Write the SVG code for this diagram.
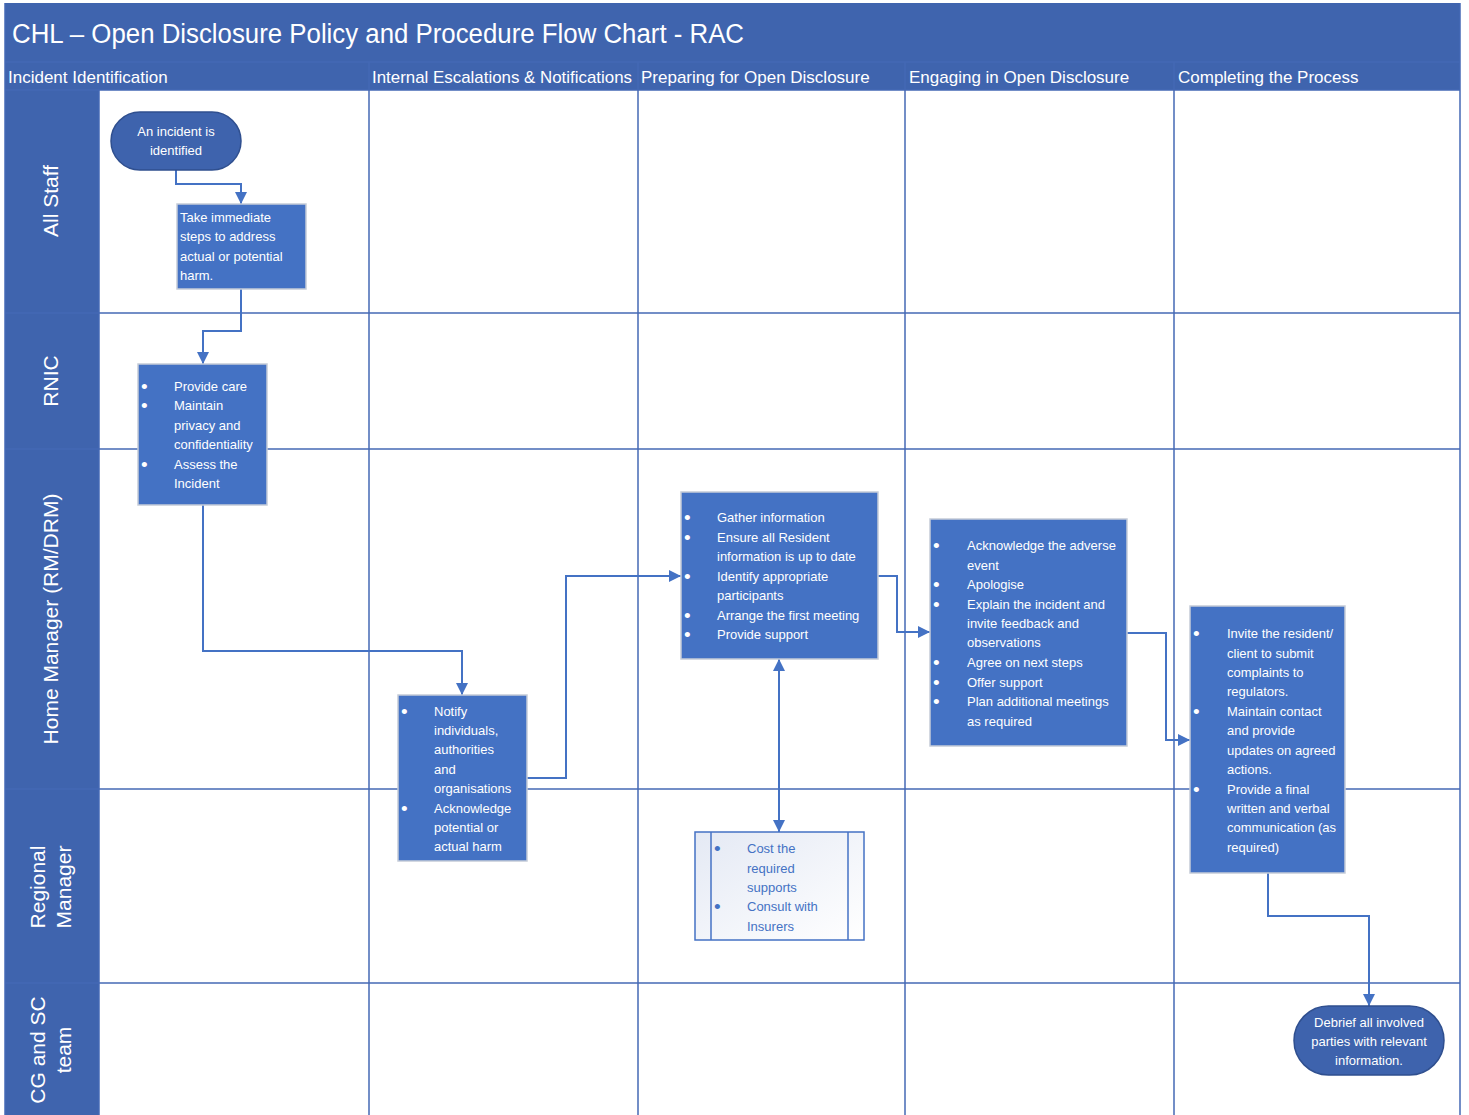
<svg xmlns="http://www.w3.org/2000/svg" width="1469" height="1115" viewBox="0 0 1469 1115">
<defs>
<style>
.grid{stroke:#4468b4;stroke-width:1.5;fill:none}
.band{fill:#3f64ae}
.hdr{font-family:"Liberation Sans",Arial,sans-serif;font-size:17px;fill:#fff}
.lane{font-family:"Liberation Sans",Arial,sans-serif;font-size:21px;fill:#fff}
.box{fill:#4472c4;stroke:#c5ccd8;stroke-width:1.5}
.term{fill:#3e63ad;stroke:#2f4f8f;stroke-width:1.5}
.t{font-family:"Liberation Sans",Arial,sans-serif;font-size:13px;fill:#fff}
.tb{font-family:"Liberation Sans",Arial,sans-serif;font-size:13px;fill:#4472c4}
.b{font-family:"Liberation Sans",Arial,sans-serif;font-size:19px;fill:#fff}
.bb{font-family:"Liberation Sans",Arial,sans-serif;font-size:19px;fill:#4472c4}
.c{text-anchor:middle}
.edge{stroke:#4472c4;stroke-width:2;fill:none}
</style>
<marker id="a" viewBox="0 0 12 12" refX="12" refY="6" markerWidth="12" markerHeight="12" markerUnits="userSpaceOnUse" orient="auto-start-reverse">
<path d="M0,0 L12,6 L0,12 z" fill="#4472c4"/>
</marker>
<linearGradient id="lg" x1="0" y1="0" x2="1" y2="1">
<stop offset="0" stop-color="#e4e9f4"/>
<stop offset="1" stop-color="#ffffff"/>
</linearGradient>
</defs>
<rect width="1469" height="1115" fill="#fff"/>
<g id="frame">
<rect class="band" x="5" y="3" width="1455" height="87"/>
<rect class="band" x="5" y="90" width="94" height="1025"/>
<text x="12" y="43" font-family="Liberation Sans,Arial,sans-serif" font-size="27" fill="#fff" textLength="732" lengthAdjust="spacingAndGlyphs">CHL – Open Disclosure Policy and Procedure Flow Chart - RAC</text>
<line class="grid" x1="5" y1="62" x2="1460" y2="62" stroke="#35569a"/>
<text class="hdr" x="8" y="83">Incident Identification</text>
<text class="hdr" x="372" y="83" textLength="260" lengthAdjust="spacingAndGlyphs">Internal Escalations &amp; Notifications</text>
<text class="hdr" x="641" y="83">Preparing for Open Disclosure</text>
<text class="hdr" x="909" y="83">Engaging in Open Disclosure</text>
<text class="hdr" x="1178" y="83">Completing the Process</text>
<g class="grid">
<line x1="369" y1="62" x2="369" y2="1115"/>
<line x1="638" y1="62" x2="638" y2="1115"/>
<line x1="905" y1="62" x2="905" y2="1115"/>
<line x1="1174" y1="62" x2="1174" y2="1115"/>
<line x1="1460" y1="3" x2="1460" y2="1115"/>
<line x1="5" y1="3" x2="5" y2="1115"/>
<line x1="99" y1="90" x2="99" y2="1115"/>
<line x1="5" y1="90" x2="1460" y2="90"/>
<line x1="5" y1="313" x2="1460" y2="313"/>
<line x1="5" y1="449" x2="1460" y2="449"/>
<line x1="5" y1="789" x2="1460" y2="789"/>
<line x1="5" y1="983" x2="1460" y2="983"/>
</g>
<text class="lane c" transform="translate(58,201) rotate(-90)">All Staff</text>
<text class="lane c" transform="translate(58,381) rotate(-90)">RNIC</text>
<text class="lane c" transform="translate(58,619) rotate(-90)">Home Manager (RM/DRM)</text>
<text class="lane c" transform="translate(45,887) rotate(-90)">Regional</text>
<text class="lane c" transform="translate(71,887) rotate(-90)">Manager</text>
<text class="lane c" transform="translate(45,1050) rotate(-90)">CG and SC</text>
<text class="lane c" transform="translate(71,1050) rotate(-90)">team</text>
</g>
<g id="connectors">
<path class="edge" d="M176,170 V184 H241 V204" marker-end="url(#a)"/>
<path class="edge" d="M241,289 V331 H203 V364" marker-end="url(#a)"/>
<path class="edge" d="M203,505 V651 H462 V695" marker-end="url(#a)"/>
<path class="edge" d="M527,778 H566 V576 H681" marker-end="url(#a)"/>
<path class="edge" d="M878,576 H897 V632 H930" marker-end="url(#a)"/>
<path class="edge" d="M779,659 V832" marker-start="url(#a)" marker-end="url(#a)"/>
<path class="edge" d="M1127,633 H1166 V740 H1190" marker-end="url(#a)"/>
<path class="edge" d="M1268,873 V916 H1369 V1006" marker-end="url(#a)"/>
</g>
<g id="n1">
<rect class="term" x="111" y="112" width="130" height="58" rx="29"/>
<text class="t c" x="176" y="136">An incident is</text>
<text class="t c" x="176" y="155">identified</text>
</g>
<g id="n2">
<rect class="box" x="177" y="204" width="129" height="85"/>
<text class="t" x="180" y="222">Take immediate</text>
<text class="t" x="180" y="241">steps to address</text>
<text class="t" x="180" y="261">actual or potential</text>
<text class="t" x="180" y="280">harm.</text>
</g>
<g id="n3">
<rect class="box" x="138" y="364" width="129" height="141"/>
<text class="b" x="141" y="393">•</text><text class="t" x="174" y="391">Provide care</text>
<text class="b" x="141" y="412">•</text><text class="t" x="174" y="410">Maintain</text>
<text class="t" x="174" y="430">privacy and</text>
<text class="t" x="174" y="449">confidentiality</text>
<text class="b" x="141" y="471">•</text><text class="t" x="174" y="469">Assess the</text>
<text class="t" x="174" y="488">Incident</text>
</g>
<g id="n4">
<rect class="box" x="398" y="695" width="129" height="166"/>
<text class="b" x="401" y="718">•</text><text class="t" x="434" y="716">Notify</text>
<text class="t" x="434" y="735">individuals,</text>
<text class="t" x="434" y="754">authorities</text>
<text class="t" x="434" y="774">and</text>
<text class="t" x="434" y="793">organisations</text>
<text class="b" x="401" y="815">•</text><text class="t" x="434" y="813">Acknowledge</text>
<text class="t" x="434" y="832">potential or</text>
<text class="t" x="434" y="851">actual harm</text>
</g>
<g id="n5">
<rect class="box" x="681" y="492" width="197" height="167"/>
<text class="b" x="684" y="524">•</text><text class="t" x="717" y="522">Gather information</text>
<text class="b" x="684" y="544">•</text><text class="t" x="717" y="542">Ensure all Resident</text>
<text class="t" x="717" y="561">information is up to date</text>
<text class="b" x="684" y="583">•</text><text class="t" x="717" y="581">Identify appropriate</text>
<text class="t" x="717" y="600">participants</text>
<text class="b" x="684" y="622">•</text><text class="t" x="717" y="620">Arrange the first meeting</text>
<text class="b" x="684" y="641">•</text><text class="t" x="717" y="639">Provide support</text>
</g>
<g id="n6">
<rect x="695" y="832" width="169" height="108" fill="url(#lg)" stroke="#4472c4" stroke-width="1.5"/>
<line x1="711" y1="832" x2="711" y2="940" stroke="#4472c4" stroke-width="1.5"/>
<line x1="848" y1="832" x2="848" y2="940" stroke="#4472c4" stroke-width="1.5"/>
<text class="bb" x="714" y="855">•</text><text class="tb" x="747" y="853">Cost the</text>
<text class="tb" x="747" y="873">required</text>
<text class="tb" x="747" y="892">supports</text>
<text class="bb" x="714" y="913">•</text><text class="tb" x="747" y="911">Consult with</text>
<text class="tb" x="747" y="931">Insurers</text>
</g>
<g id="n7">
<rect class="box" x="930" y="519" width="197" height="227"/>
<text class="b" x="933" y="552">•</text><text class="t" x="967" y="550">Acknowledge the adverse</text>
<text class="t" x="967" y="570">event</text>
<text class="b" x="933" y="591">•</text><text class="t" x="967" y="589">Apologise</text>
<text class="b" x="933" y="611">•</text><text class="t" x="967" y="609">Explain the incident and</text>
<text class="t" x="967" y="628">invite feedback and</text>
<text class="t" x="967" y="647">observations</text>
<text class="b" x="933" y="669">•</text><text class="t" x="967" y="667">Agree on next steps</text>
<text class="b" x="933" y="689">•</text><text class="t" x="967" y="687">Offer support</text>
<text class="b" x="933" y="708">•</text><text class="t" x="967" y="706">Plan additional meetings</text>
<text class="t" x="967" y="726">as required</text>
</g>
<g id="n8">
<rect class="box" x="1190" y="606" width="155" height="267"/>
<text class="b" x="1193" y="640">•</text><text class="t" x="1227" y="638">Invite the resident/</text>
<text class="t" x="1227" y="658">client to submit</text>
<text class="t" x="1227" y="677">complaints to</text>
<text class="t" x="1227" y="696">regulators.</text>
<text class="b" x="1193" y="718">•</text><text class="t" x="1227" y="716">Maintain contact</text>
<text class="t" x="1227" y="735">and provide</text>
<text class="t" x="1227" y="755">updates on agreed</text>
<text class="t" x="1227" y="774">actions.</text>
<text class="b" x="1193" y="796">•</text><text class="t" x="1227" y="794">Provide a final</text>
<text class="t" x="1227" y="813">written and verbal</text>
<text class="t" x="1227" y="832">communication (as</text>
<text class="t" x="1227" y="852">required)</text>
</g>
<g id="n9">
<rect class="term" x="1294" y="1006" width="150" height="69" rx="34.5"/>
<text class="t c" x="1369" y="1027">Debrief all involved</text>
<text class="t c" x="1369" y="1046">parties with relevant</text>
<text class="t c" x="1369" y="1065">information.</text>
</g>
</svg>
